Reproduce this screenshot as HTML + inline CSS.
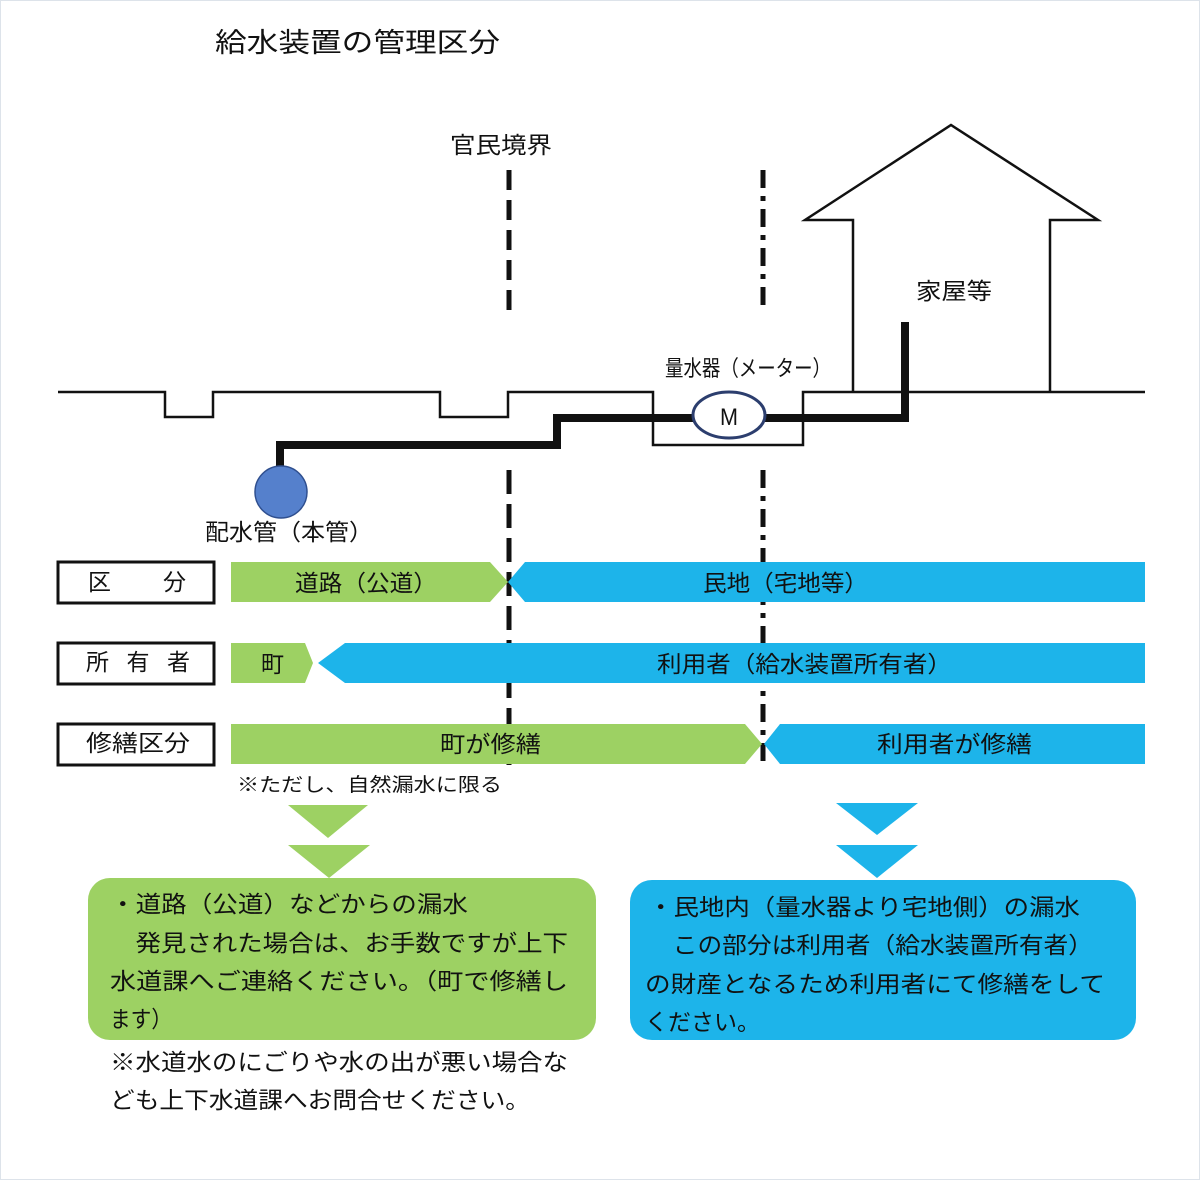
<!DOCTYPE html>
<html><head><meta charset="utf-8"><style>
body{margin:0;background:#fff}
svg{display:block}
text{font-family:"Liberation Sans","Noto Sans CJK JP",sans-serif;fill:#111}
</style></head><body>
<svg width="1200" height="1180" viewBox="0 0 1200 1180">
<rect x="0.5" y="0.5" width="1199" height="1179" fill="#fff" stroke="#dde3ea"/>
<text x="215" y="52" font-size="27" textLength="285" lengthAdjust="spacingAndGlyphs">給水装置の管理区分</text>
<text x="450" y="153" font-size="23" textLength="102" lengthAdjust="spacingAndGlyphs">官民境界</text>
<text x="916" y="299" font-size="23" textLength="76" lengthAdjust="spacingAndGlyphs">家屋等</text>
<text x="665" y="376" font-size="22" textLength="166" lengthAdjust="spacingAndGlyphs">量水器（メーター）</text>
<text x="205" y="540" font-size="23" textLength="168" lengthAdjust="spacingAndGlyphs">配水管（本管）</text>
<!-- dashed boundaries -->
<g stroke="#111" stroke-width="5" fill="none">
<line x1="509" y1="170" x2="509" y2="312" stroke-dasharray="20,10"/>
<line x1="509" y1="470" x2="509" y2="765" stroke-dasharray="24,10"/>
<line x1="763" y1="170" x2="763" y2="305" stroke-dasharray="18,8,5,8"/>
<line x1="763" y1="470" x2="763" y2="765" stroke-dasharray="18,8,5,8"/>
</g>
<!-- ground -->
<polyline points="58,392 165,392 165,417 213,417 213,392 440,392 440,417 508,417 508,392 653,392 653,445 803,445 803,392 1145,392" fill="none" stroke="#111" stroke-width="2.5"/>
<!-- house -->
<polyline points="853,392 853,220 805,220 951,125 1098,220 1050,220 1050,392" fill="none" stroke="#111" stroke-width="2.5"/>
<!-- pipe -->
<polyline points="280,470 280,445 557,445 557,418 905,418 905,322" fill="none" stroke="#111" stroke-width="8"/>
<ellipse cx="281" cy="492" rx="26" ry="26" fill="#5580cc" stroke="#2f4f8f" stroke-width="1.5"/>
<ellipse cx="729" cy="415" rx="36" ry="23" fill="#fff" stroke="#2c3e6e" stroke-width="3"/>
<text x="720" y="425" font-size="24" textLength="18" lengthAdjust="spacingAndGlyphs">M</text>
<!-- label boxes -->
<g fill="#fff" stroke="#111" stroke-width="3">
<rect x="58" y="562" width="156" height="41"/>
<rect x="58" y="643" width="156" height="41"/>
<rect x="58" y="724" width="156" height="41"/>
</g>
<text x="88" y="590" font-size="23">区</text><text x="163" y="590" font-size="23">分</text>
<text x="86" y="670" font-size="23" textLength="104" lengthAdjust="spacing">所有者</text>
<text x="86" y="751" font-size="23" textLength="104" lengthAdjust="spacingAndGlyphs">修繕区分</text>
<!-- bars -->
<polygon points="231,562 490,562 508,582 490,602 231,602" fill="#9dd163"/>
<polygon points="525,562 1145,562 1145,602 525,602 508,582" fill="#1db4ea"/>
<polygon points="231,643 305,643 313,663 305,683 231,683" fill="#9dd163"/>
<polygon points="345,643 1145,643 1145,683 345,683 318,663" fill="#1db4ea"/>
<polygon points="231,724 745,724 762,744 745,764 231,764" fill="#9dd163"/>
<polygon points="780,724 1145,724 1145,764 780,764 764,744" fill="#1db4ea"/>
<text x="295" y="591" font-size="23" textLength="142" lengthAdjust="spacingAndGlyphs">道路（公道）</text>
<text x="703" y="591" font-size="23" textLength="165" lengthAdjust="spacingAndGlyphs">民地（宅地等）</text>
<text x="261" y="672" font-size="23">町</text>
<text x="657" y="672" font-size="23" textLength="295" lengthAdjust="spacingAndGlyphs">利用者（給水装置所有者）</text>
<text x="440" y="752" font-size="23" textLength="101" lengthAdjust="spacingAndGlyphs">町が修繕</text>
<text x="877" y="752" font-size="23" textLength="155" lengthAdjust="spacingAndGlyphs">利用者が修繕</text>
<text x="237" y="791" font-size="19" textLength="265" lengthAdjust="spacingAndGlyphs">※ただし、自然漏水に限る</text>
<!-- triangles -->
<polygon points="288,805 368,805 328,838" fill="#9dd163"/>
<polygon points="288,845 370,845 329,878" fill="#9dd163"/>
<polygon points="836,803 918,803 877,835" fill="#1db4ea"/>
<polygon points="836,845 918,845 877,878" fill="#1db4ea"/>
<!-- boxes -->
<rect x="88" y="878" width="508" height="162" rx="22" fill="#9dd163"/>
<rect x="630" y="880" width="506" height="160" rx="22" fill="#1db4ea"/>
<g font-size="23">
<text x="110" y="912" textLength="358" lengthAdjust="spacingAndGlyphs">・道路（公道）などからの漏水</text>
<text x="110" y="951" textLength="458" lengthAdjust="spacingAndGlyphs">　発見された場合は、お手数ですが上下</text>
<text x="110" y="989" textLength="458" lengthAdjust="spacingAndGlyphs">水道課へご連絡ください。（町で修繕し</text>
<text x="110" y="1027" textLength="62" lengthAdjust="spacingAndGlyphs">ます）</text>
<text x="110" y="1070" textLength="458" lengthAdjust="spacingAndGlyphs">※水道水のにごりや水の出が悪い場合な</text>
<text x="110" y="1108" textLength="420" lengthAdjust="spacingAndGlyphs">ども上下水道課へお問合せください。</text>
<text x="648" y="915" textLength="432" lengthAdjust="spacingAndGlyphs">・民地内（量水器より宅地側）の漏水</text>
<text x="648" y="953" textLength="445" lengthAdjust="spacingAndGlyphs">　この部分は利用者（給水装置所有者）</text>
<text x="645" y="992" textLength="460" lengthAdjust="spacingAndGlyphs">の財産となるため利用者にて修繕をして</text>
<text x="645" y="1030" textLength="115" lengthAdjust="spacingAndGlyphs">ください。</text>
</g>
</svg>
</body></html>
